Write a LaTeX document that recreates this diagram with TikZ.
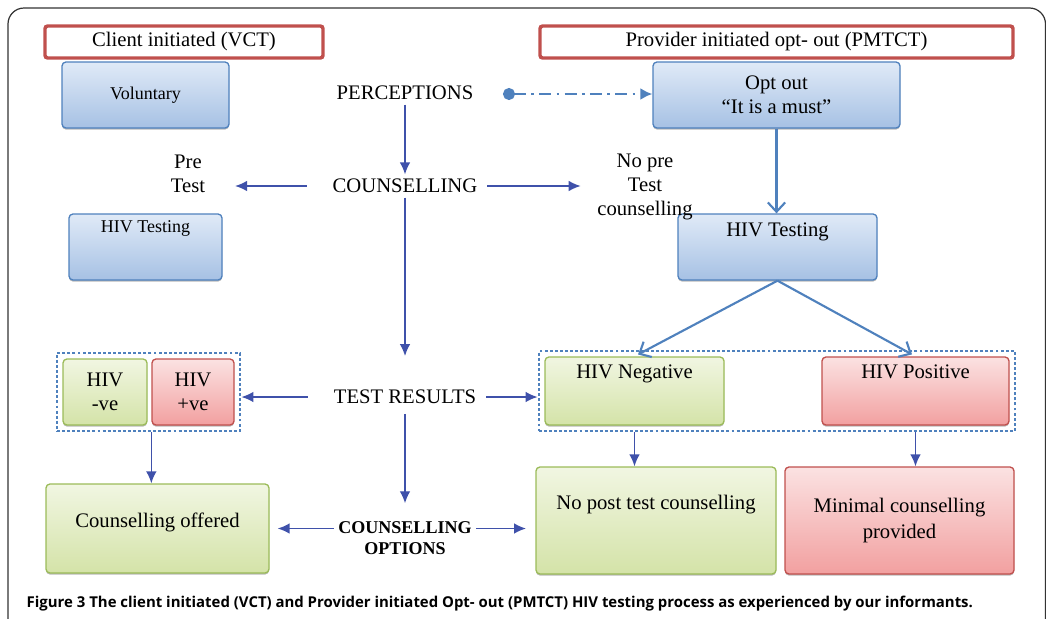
\documentclass[tikz,border=0pt]{standalone}
\usepackage{fontspec}
\setmainfont{Liberation Serif}
\newfontfamily\capfont{Open Sans}
\usetikzlibrary{arrows.meta, fit, shadows}

\definecolor{lineblue}{RGB}{79,129,189}
\definecolor{blueA}{RGB}{224,234,247}
\definecolor{blueB}{RGB}{166,193,228}
\definecolor{linegreen}{RGB}{155,187,89}
\definecolor{greenA}{RGB}{241,246,226}
\definecolor{greenB}{RGB}{212,227,168}
\definecolor{linered}{RGB}{192,80,77}
\definecolor{redA}{RGB}{251,226,226}
\definecolor{redB}{RGB}{242,160,160}
\definecolor{arrowblue}{RGB}{63,81,170}

\begin{document}
\begin{tikzpicture}[x=0.75pt, y=-0.75pt,
  every node/.style={font=\fontsize{15.5}{18}\selectfont},
  box/.style={rounded corners=3pt, line width=1pt,
    drop shadow={shadow xshift=0pt, shadow yshift=-1.2pt, opacity=.55}},
  bluebox/.style={box, draw=lineblue, top color=blueA, bottom color=blueB},
  greenbox/.style={box, draw=linegreen, top color=greenA, bottom color=greenB},
  redbox/.style={box, draw=linered, top color=redA, bottom color=redB},
  headbox/.style={draw=linered, line width=2.6pt, rounded corners=2pt, fill=white},
  dotbox/.style={draw=lineblue, line width=2.2pt, dash pattern=on 2.2pt off 1.6pt, inner sep=4pt},
  darrow/.style={-{Latex[length=9pt,width=8pt]}, draw=arrowblue, line width=1.1pt},
  larrow/.style={-{Straight Barb[length=7pt,width=13pt]}, draw=lineblue, line width=1.6pt},
  dasharrow/.style={{Circle[length=9pt]}-{Latex[length=9pt,width=9pt]}, draw=lineblue,
    line width=1.6pt, dash pattern=on 9pt off 4pt on 2pt off 4pt},
]
\useasboundingbox (0,0) rectangle (1046,618);

% outer frame
\begin{scope}
  \clip (0,0) rectangle (1046,618);
  \draw[black!80, line width=0.9pt, rounded corners=12pt] (8,8) rectangle (1045.5,650);
\end{scope}

% headers
\node[headbox, minimum width=208.5pt, minimum height=24pt] (client) at (184,42) {Client initiated (VCT)};
\node[headbox, minimum width=354.75pt, minimum height=24pt] (provider) at (776.5,42) {Provider initiated opt- out (PMTCT)};

% left column
\node[bluebox, minimum width=125.25pt, minimum height=49.5pt, font=\fontsize{13.5}{16}\selectfont] (vol) at (145.5,95) {Voluntary};
\node[align=center] (pretest) at (188,174) {Pre\\Test};
\node[bluebox, minimum width=114.75pt, minimum height=49.5pt, inner ysep=0pt, text height=10pt, text depth=32.5pt,
  font=\fontsize{13.5}{16}\selectfont] (testL) at (145.5,247) {HIV Testing};
\node[greenbox, minimum width=63pt, minimum height=49.5pt, align=center] (hneg) at (105,392) {HIV\\-ve};
\node[redbox, minimum width=61.5pt, minimum height=49.5pt, align=center] (hpos) at (193,392) {HIV\\+ve};
\node[dotbox, fit=(hneg)(hpos)] (resL) {};
\node[greenbox, minimum width=167.25pt, minimum height=66.75pt, inner ysep=0pt, text height=11pt, text depth=13.2pt] (offered) at (157.5,528.5) {Counselling offered};

% right column
\node[bluebox, minimum width=185.25pt, minimum height=49.5pt, align=center] (optout) at (776.5,95) {Opt out\\“It is a must”};
\node[bluebox, minimum width=149.25pt, minimum height=49.5pt, inner ysep=0pt, text height=11pt, text depth=27.5pt] (testR) at (777.5,247) {HIV Testing};
\node[align=center] (nopre) at (645,187) {No pre\\Test\\counselling};
\node[greenbox, minimum width=134.25pt, minimum height=51pt, inner ysep=0pt, text height=11pt, text depth=30.5pt] (neg) at (634.5,391) {HIV Negative};
\node[redbox, minimum width=140.25pt, minimum height=51pt, inner ysep=0pt, text height=11pt, text depth=30.5pt] (pos) at (915.5,391) {HIV Positive};
\node[dotbox, fit=(neg)(pos)] (resR) {};
\node[greenbox, minimum width=180pt, minimum height=80.25pt, inner ysep=0pt, text height=11pt, text depth=26.8pt] (nopost) at (656,520.5) {No post test counselling};
\node[redbox, minimum width=171.75pt, minimum height=80.25pt, align=center, font=\fontsize{15.5}{20}\selectfont] (minimal) at (899.5,520.5) {Minimal counselling\\provided};

% middle column
\node (perc) at (405,93) {PERCEPTIONS};
\node (couns) at (405,186) {COUNSELLING};
\node (results) at (405,397) {TEST RESULTS};
\node[align=center, font=\fontsize{13.5}{16}\selectfont\bfseries] (options) at (405,538) {COUNSELLING\\OPTIONS};
\coordinate (dot) at (503,94);

% arrows
\draw[darrow] (perc) -- (couns);
\draw[darrow, shorten <=16pt, shorten >=19pt] (couns.west) -- (couns.west -| pretest.east);
\draw[darrow, shorten <=4pt, shorten >=9pt] (couns.east) -- (couns.east -| nopre.west);
\draw[darrow, shorten >=22pt] (couns) -- (results);
\draw[darrow, shorten <=16pt] (results.west) -- (resL.east |- results.west);
\draw[darrow, shorten <=4pt] (results.east) -- (resR.west |- results.east);
\draw[darrow, shorten <=4pt, shorten >=10pt] (results) -- (options);
\draw[darrow, shorten >=6pt] (options.west |- offered) -- (offered.east);
\draw[darrow, shorten >=7pt] (options.east |- offered) -- (nopost.west |- offered);
\draw[darrow] (hpos.west |- resL.south) -- (hpos.west |- offered.north);
\draw[darrow] (neg |- resR.south) -- (neg |- nopost.north);
\draw[darrow] (pos |- resR.south) -- (pos |- minimal.north);

\draw[dasharrow] (dot) -- (dot -| optout.west);
\draw[larrow] (optout.south) -- (optout.south |- testR.north);
\draw[larrow, shorten >=3pt] (testR.south) -- (neg.north);
\draw[larrow, shorten >=3pt] (testR.south) -- (pos.north);

% caption
\node[anchor=west, font=\capfont\bfseries\fontsize{11.2}{13}\selectfont] (caption) at (22,604)
  {Figure 3 The client initiated (VCT) and Provider initiated Opt- out (PMTCT) HIV testing process as experienced by our informants.};
\end{tikzpicture}
\end{document}
